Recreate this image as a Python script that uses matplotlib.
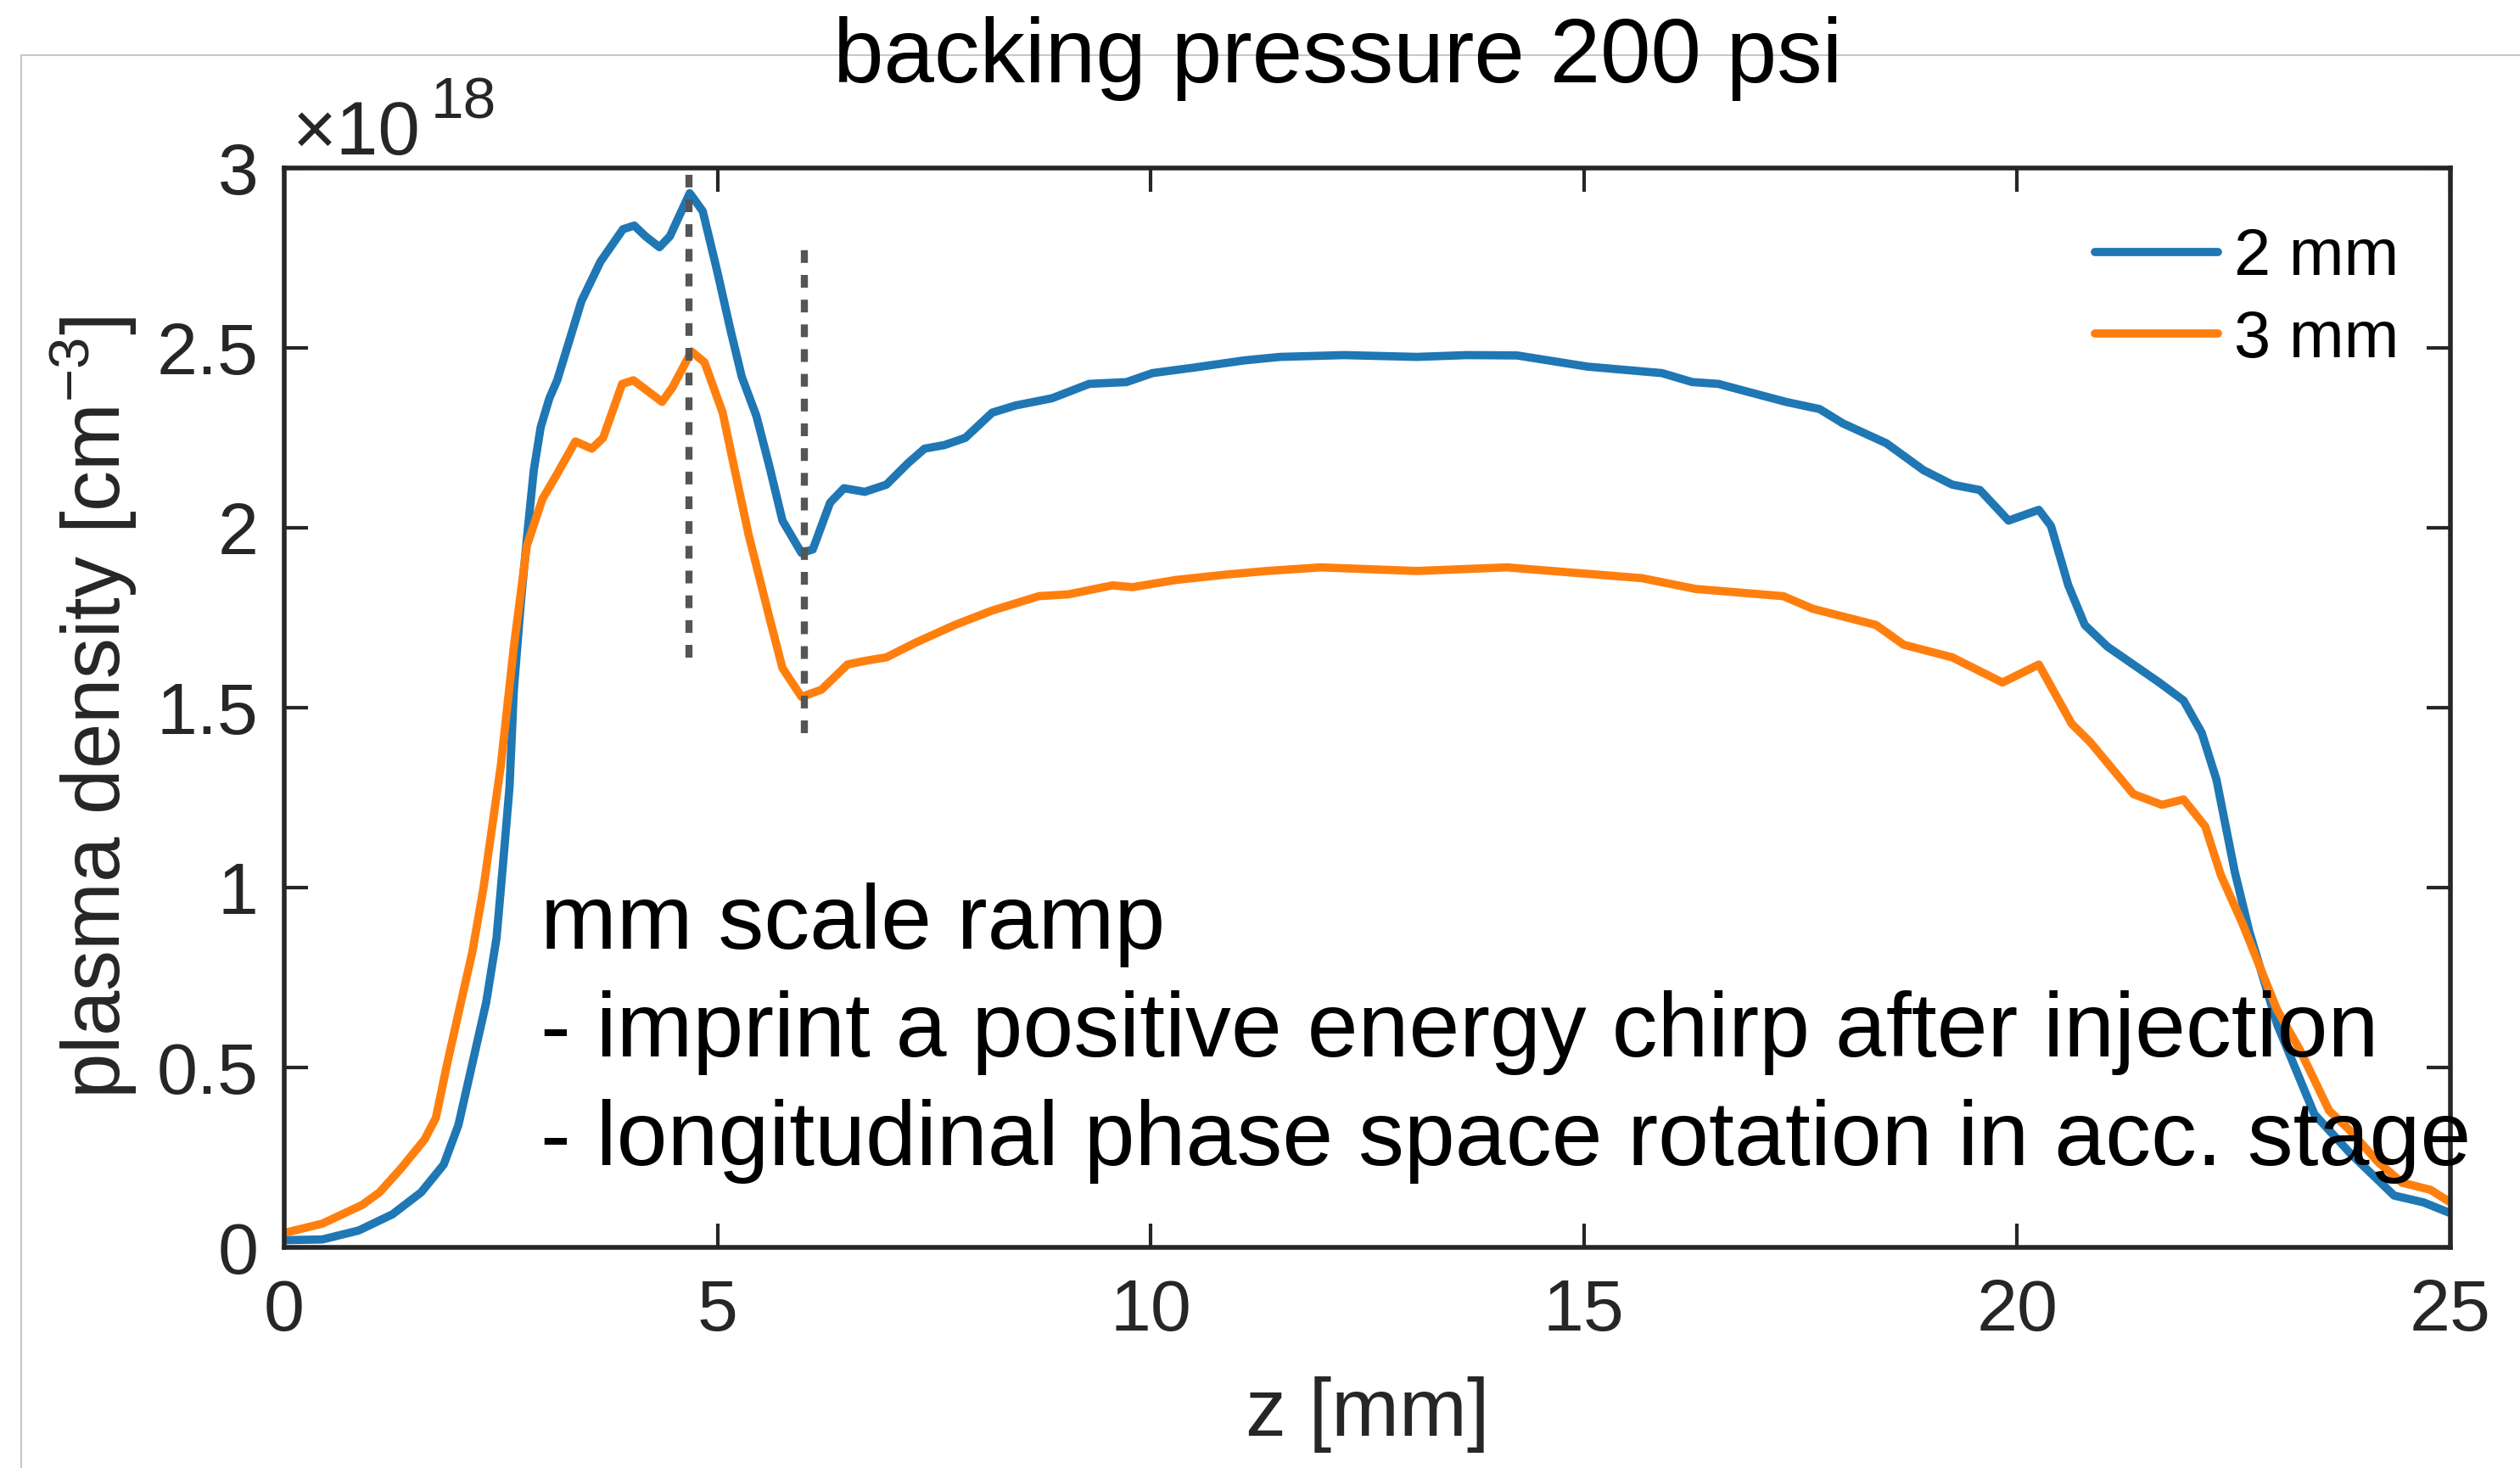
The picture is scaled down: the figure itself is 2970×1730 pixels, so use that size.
import matplotlib
matplotlib.use('Agg')
import matplotlib.pyplot as plt
from matplotlib.lines import Line2D
from matplotlib.ticker import FuncFormatter

plt.rcParams['font.family'] = ['Liberation Sans', 'DejaVu Sans']
plt.rcParams['mathtext.fontset'] = 'custom'
plt.rcParams['mathtext.rm'] = 'Liberation Sans'
plt.rcParams['mathtext.it'] = 'Liberation Sans:italic'

# plasma density profiles, density in units of 1e18 cm^-3
z_2mm = [0.0, 0.44, 0.86, 1.25, 1.58, 1.84, 2.01, 2.17, 2.33, 2.45, 2.53, 2.60,
         2.65, 2.73, 2.80, 2.88, 2.96, 3.06, 3.15, 3.43, 3.65, 3.91, 4.04, 4.17,
         4.33, 4.45, 4.68, 4.83, 5.0, 5.15, 5.28, 5.45, 5.60, 5.75, 5.97, 6.10,
         6.30, 6.46, 6.70, 6.95, 7.20, 7.39, 7.62, 7.86, 8.17, 8.44, 8.86, 9.29,
         9.72, 10.02, 10.49, 11.07, 11.49, 12.23, 13.07, 13.65, 14.23, 15.04,
         15.90, 16.25, 16.55, 17.33, 17.72, 17.99, 18.49, 18.92, 19.25, 19.57,
         19.90, 20.25, 20.39, 20.59, 20.78, 21.04, 21.37, 21.64, 21.92, 22.13,
         22.30, 22.51, 22.68, 23.0, 23.43, 23.85, 24.35, 24.69, 25.0]
n_2mm = [0.02, 0.022, 0.047, 0.092, 0.153, 0.23, 0.34, 0.51, 0.68, 0.86, 1.08, 1.28,
         1.55, 1.79, 1.97, 2.16, 2.28, 2.36, 2.41, 2.63, 2.74, 2.83, 2.84, 2.81,
         2.78, 2.81, 2.93, 2.88, 2.71, 2.55, 2.42, 2.31, 2.17, 2.02, 1.93, 1.94,
         2.07, 2.11, 2.10, 2.12, 2.18, 2.22, 2.23, 2.25, 2.32, 2.34, 2.36, 2.40,
         2.405, 2.43, 2.445, 2.465, 2.475, 2.48, 2.475, 2.48, 2.479, 2.448,
         2.43, 2.405, 2.40, 2.35, 2.33, 2.29, 2.235, 2.16, 2.12, 2.105,
         2.02, 2.05, 2.005, 1.84, 1.73, 1.67, 1.615, 1.57, 1.52, 1.43,
         1.30, 1.045, 0.877, 0.62, 0.37, 0.26, 0.144, 0.125, 0.095]

z_3mm = [0.0, 0.44, 0.90, 1.10, 1.35, 1.62, 1.75, 1.88, 2.01, 2.17, 2.30, 2.40,
         2.50, 2.65, 2.80, 2.98, 3.15, 3.36, 3.55, 3.68, 3.90, 4.03, 4.36, 4.48,
         4.70, 4.85, 5.06, 5.20, 5.36, 5.60, 5.75, 5.97, 6.20, 6.50, 6.70, 6.95,
         7.28, 7.74, 8.17, 8.71, 9.05, 9.56, 9.79, 10.29, 10.87, 11.34, 11.96,
         13.07, 14.11, 15.67, 16.29, 17.30, 17.64, 18.37, 18.69, 19.25, 19.83,
         20.25, 20.63, 20.84, 21.34, 21.67, 21.92, 22.17, 22.35, 22.6, 23.0,
         23.26, 23.6, 23.82, 24.17, 24.44, 24.77, 25.0]
n_3mm = [0.04, 0.066, 0.118, 0.153, 0.22, 0.30, 0.36, 0.51, 0.65, 0.82, 1.00, 1.17,
         1.34, 1.67, 1.95, 2.08, 2.15, 2.24, 2.22, 2.25, 2.40, 2.41, 2.35, 2.39,
         2.49, 2.46, 2.32, 2.16, 1.98, 1.75, 1.61, 1.53, 1.55, 1.62, 1.63, 1.64,
         1.68, 1.73, 1.77, 1.81, 1.815, 1.84, 1.835, 1.855, 1.87, 1.88, 1.89,
         1.88, 1.89, 1.86, 1.83, 1.81, 1.775, 1.73, 1.675, 1.64, 1.57,
         1.62, 1.455, 1.405, 1.26, 1.23, 1.245, 1.17, 1.035, 0.90, 0.66,
         0.55, 0.38, 0.33, 0.236, 0.18, 0.16, 0.125]

series_labels = ['2 mm', '3 mm']
series_colors = ['#1f77b4', '#ff7f0e']

# vertical dashed markers (peak and dip)
marker_z = [4.67, 6.0]
marker_lo = [1.64, 1.43]
marker_hi = [2.98, 2.78]

x_ticks = [0, 5, 10, 15, 20, 25]
y_ticks = [0, 0.5, 1, 1.5, 2, 2.5, 3]

notes = ['mm scale ramp',
         '- imprint a positive energy chirp after injection',
         '- longitudinal phase space rotation in acc. stage']

W, H = 2970, 1730
fig = plt.figure(figsize=(W / 100, H / 100), dpi=100)

# light slide frame
fig.add_artist(Line2D([25 / W, 1], [1 - 65 / H, 1 - 65 / H], color='#c8c8c8', lw=1.5, zorder=1))
fig.add_artist(Line2D([25 / W, 25 / W], [0, 1 - 65 / H], color='#c8c8c8', lw=1.5, zorder=1))

ax = fig.add_axes([335 / W, 1 - 1470 / H, 2553 / W, 1272 / H])

for z, n, lab, col in zip([z_2mm, z_3mm], [n_2mm, n_3mm], series_labels, series_colors):
    ax.plot(z, n, color=col, lw=7, label=lab, solid_joinstyle='round',
            solid_capstyle='round', zorder=2)

ax.vlines(marker_z, marker_lo, marker_hi, colors='#555555', lw=6,
          linestyles=(0, (1.8, 1.7)), zorder=3)

ax.set_xlim(0, 25)
ax.set_ylim(0, 3)
ax.set_xticks(x_ticks)
ax.set_yticks(y_ticks)
ax.yaxis.set_major_formatter(FuncFormatter(lambda v, p: '%g' % v))

dark = '#262626'
for s in ax.spines.values():
    s.set_linewidth(4)
    s.set_color(dark)
ax.tick_params(direction='in', length=20, width=3, color=dark, labelcolor=dark,
               labelsize=62, top=True, right=True)
ax.tick_params(axis='x', pad=26)
ax.tick_params(axis='y', pad=22)

ax.set_xlabel('z [mm]', fontsize=69, color=dark, va='center')
ax.xaxis.set_label_coords(0.5, -0.155)
ax.set_ylabel(r'plasma density [cm$^{-3}$]', fontsize=69, color=dark, va='center')
ax.yaxis.set_label_coords(-0.088, 0.5)

ax.legend(loc='center left', bbox_to_anchor=(0.836, 0.879), frameon=False,
          fontsize=56, handlelength=1.86, handletextpad=0.25, labelspacing=0.3,
          borderpad=0, borderaxespad=0)

# exponent label
fig.text(345 / W, 1 - 182 / H, '\u00d710', fontsize=64, color=dark, va='baseline')
fig.text(508 / W, 1 - 140 / H, '18', fontsize=50, color=dark, va='baseline')

fig.text(1577 / W, 1 - 97 / H, 'backing pressure 200 psi', fontsize=77,
         ha='center', va='baseline', zorder=5)

for txt, base in zip(notes, [1118, 1245, 1373]):
    fig.text(637 / W, 1 - base / H, txt, fontsize=77.5, va='baseline', zorder=5)

fig.savefig('out.png', dpi=100)
